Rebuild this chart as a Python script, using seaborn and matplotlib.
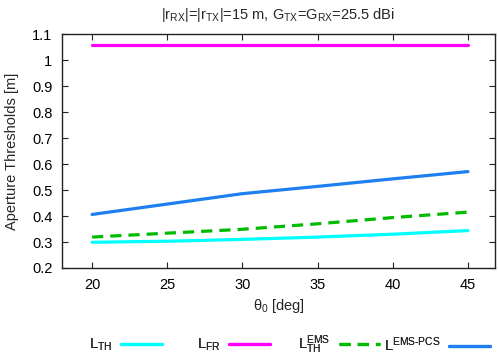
import numpy as np
import pandas as pd
import matplotlib
matplotlib.use('Agg')
import matplotlib.pyplot as plt
import seaborn as sns
from matplotlib.ticker import FuncFormatter

# values
theta0 = [20, 25, 30, 35, 40, 45]
L_TH = [0.299, 0.303, 0.310, 0.319, 0.330, 0.344]
L_FR = [1.06, 1.06, 1.06, 1.06, 1.06, 1.06]
L_TH_EMS = [0.319, 0.334, 0.349, 0.370, 0.394, 0.415]
L_EMS_PCS = [0.406, 0.446, 0.486, 0.514, 0.543, 0.571]

series_names = [r'L$_{TH}$', r'L$_{FR}$',
                r'L$_{TH}^{EMS}$', r'L$^{EMS\text{-}PCS}$']
series_colors = ['#00ffff', '#ff00ff', '#00bb00', '#1e80f0']

sns.set_style('ticks')
plt.rcParams['font.family'] = ['Liberation Sans', 'DejaVu Sans']
plt.rcParams['mathtext.fontset'] = 'custom'
plt.rcParams['mathtext.rm'] = 'Liberation Sans'
plt.rcParams['mathtext.it'] = 'Liberation Sans'
plt.rcParams['mathtext.default'] = 'regular'

df = pd.DataFrame({
    'theta': theta0 * 4,
    'value': L_TH + L_FR + L_TH_EMS + L_EMS_PCS,
    'series': sum([[n] * len(theta0) for n in series_names], []),
})

fig = plt.figure(figsize=(4.98, 3.59), dpi=100)
ax = fig.add_axes([0.1245, 0.2535, 0.8695, 0.6515])

sns.lineplot(data=df, x='theta', y='value', hue='series', style='series',
             palette=dict(zip(series_names, series_colors)),
             dashes={series_names[0]: '', series_names[1]: '',
                     series_names[2]: (3.5, 2.2), series_names[3]: ''},
             linewidth=2.3, ax=ax, legend=False)

ax.set_xlim(18, 46.8)
ax.set_ylim(0.2, 1.1)
ax.set_xticks(theta0)
ax.set_yticks(np.arange(0.2, 1.11, 0.1))
ax.yaxis.set_major_formatter(FuncFormatter(lambda v, p: '%g' % round(v, 2)))
ax.tick_params(direction='in', top=True, right=True, length=4, width=0.8,
               labelsize=10.5, colors='#222222', labelcolor='black', pad=7)
for s in ax.spines.values():
    s.set_linewidth(1.0)
    s.set_color('#222222')

ax.set_xlabel(r'$\theta_0$ [deg]', fontsize=10.5, labelpad=4)
ax.set_ylabel('Aperture Thresholds [m]', fontsize=10.5, labelpad=9)
ax.set_title(r'|r$_{RX}$|=|r$_{TX}$|=15 m, G$_{TX}$=G$_{RX}$=25.5 dBi',
             fontsize=10.5, pad=11)

# gnuplot style key: one entry per slot, text left of the sample line
handles = ax.get_lines()[:4]
line_ends = [162, 270, 380, 490]
for h, name, xe in zip(handles, series_names, line_ends):
    leg = fig.legend([h], [name], loc='center right',
                     bbox_to_anchor=(xe / 498, 1 - 345 / 359),
                     frameon=False, markerfirst=False, fontsize=10.5,
                     handlelength=2.8, handletextpad=0.6, borderpad=0,
                     borderaxespad=0)
    fig.add_artist(leg)

fig.savefig('out.png', dpi=100)
